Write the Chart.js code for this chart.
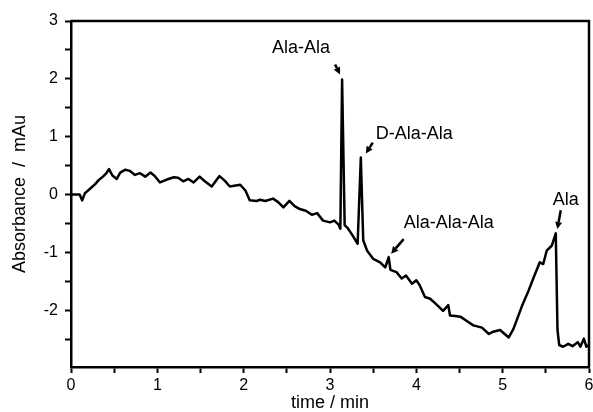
<!DOCTYPE html>
<html>
<head>
<meta charset="utf-8">
<script src="https://cdn.jsdelivr.net/npm/chart.js@4/dist/chart.umd.min.js"></script>
<style>
  html, body { margin: 0; padding: 0; background: #fff; }
  #wrap { width: 593px; height: 412px; }
</style>
</head>
<body>
<div id="wrap"><canvas id="chart" width="593" height="412"></canvas></div>
<script>
// electropherogram trace
const times = [
  0, 0.1, 0.13, 0.16, 0.22, 0.28, 0.32, 0.37, 0.41, 0.44, 0.48, 0.53, 0.57, 0.63, 0.68, 0.74, 0.8, 0.86, 0.92, 0.97,
  1.03, 1.11, 1.19, 1.24, 1.3, 1.36, 1.42, 1.49, 1.55, 1.63, 1.72, 1.78, 1.84, 1.96,
  2.02, 2.07, 2.15, 2.19, 2.25, 2.34, 2.4, 2.46, 2.53, 2.59, 2.65, 2.72, 2.79, 2.85, 2.92,
  3.0, 3.05, 3.1, 3.12, 3.14, 3.17, 3.2, 3.25, 3.32, 3.357, 3.385, 3.43, 3.5, 3.58, 3.64, 3.68, 3.7, 3.77, 3.83, 3.88, 3.95,
  4.0, 4.04, 4.1, 4.16, 4.22, 4.31, 4.37, 4.39, 4.45, 4.51, 4.58, 4.66, 4.76, 4.84, 4.89, 4.97,
  5.07, 5.125, 5.22, 5.3, 5.36, 5.43, 5.47, 5.51, 5.57, 5.615, 5.635, 5.655, 5.7, 5.76, 5.81, 5.87, 5.9, 5.94, 5.97, 6.0
];
const absorbance = [
  0, 0, -0.1, 0.02, 0.1, 0.18, 0.25, 0.31, 0.37, 0.44, 0.33, 0.27, 0.38, 0.43, 0.41, 0.34, 0.37, 0.31, 0.38, 0.32,
  0.21, 0.26, 0.3, 0.29, 0.23, 0.27, 0.21, 0.31, 0.23, 0.14, 0.32, 0.24, 0.14, 0.17,
  0.07, -0.1, -0.11, -0.09, -0.11, -0.07, -0.13, -0.22, -0.11, -0.2, -0.25, -0.28, -0.35, -0.32, -0.45,
  -0.48, -0.45, -0.52, -0.59, 1.99, -0.53, -0.57, -0.68, -0.85, 0.64, -0.79, -0.97, -1.11, -1.17, -1.26, -1.08, -1.3, -1.34, -1.45, -1.4, -1.54,
  -1.48, -1.57, -1.77, -1.8, -1.88, -2.01, -1.91, -2.09, -2.1, -2.11, -2.18, -2.26, -2.3, -2.41, -2.37, -2.34,
  -2.47, -2.32, -1.94, -1.66, -1.43, -1.17, -1.2, -0.97, -0.88, -0.67, -2.34, -2.6, -2.63, -2.58, -2.62, -2.55, -2.63, -2.49, -2.63, -2.6
];

const xTickLabels = [0, 1, 2, 3, 4, 5, 6];
const yTickLabels = [-2, -1, 0, 1, 2, 3];

const peakNames = ['Ala-Ala', 'D-Ala-Ala', 'Ala-Ala-Ala', 'Ala'];
const peakTimes = [3.14, 3.357, 3.68, 5.615];
const peakValues = [1.99, 0.64, -1.08, -0.67];

// pixel offsets of label text and arrow from each peak
const labelOffsets = [
  { align: 'center', text: [-41, -31], tail: [-7, -15], tip: [-2, -5] },
  { align: 'left', text: [15, -24], tail: [12, -15], tip: [5, -4] },
  { align: 'left', text: [15, -34], tail: [15, -18], tip: [2.4, -3.4] },
  { align: 'center', text: [10, -33], tail: [5, -23], tip: [1.6, -4.4] }
];

const FONT = "'Liberation Sans', Arial, Helvetica, sans-serif";

// major labels plus a minor tick halfway between
function withMinor(labels) {
  const out = [];
  labels.forEach(v => { out.push(v); out.push(v - 0.5); });
  return out.sort((a, b) => a - b);
}

function drawArrow(ctx, x1, y1, x2, y2) {
  const ang = Math.atan2(y2 - y1, x2 - x1);
  const head = 7, half = 3.5;
  const bx = x2 - head * Math.cos(ang), by = y2 - head * Math.sin(ang);
  ctx.beginPath();
  ctx.moveTo(x1, y1);
  ctx.lineTo(bx, by);
  ctx.lineWidth = 2.5;
  ctx.stroke();
  ctx.beginPath();
  ctx.moveTo(x2, y2);
  ctx.lineTo(bx + half * Math.sin(ang), by - half * Math.cos(ang));
  ctx.lineTo(bx - half * Math.sin(ang), by + half * Math.cos(ang));
  ctx.closePath();
  ctx.fill();
}

const peakLabels = {
  id: 'peakLabels',
  afterDatasetsDraw(chart) {
    const { ctx, scales: { x, y } } = chart;
    ctx.save();
    ctx.fillStyle = '#000';
    ctx.strokeStyle = '#000';
    ctx.font = '18px ' + FONT;
    ctx.textBaseline = 'middle';
    peakNames.forEach((name, i) => {
      const px = x.getPixelForValue(peakTimes[i]);
      const py = y.getPixelForValue(peakValues[i]);
      const o = labelOffsets[i];
      ctx.textAlign = o.align;
      ctx.fillText(name, px + o.text[0], py + o.text[1]);
      drawArrow(ctx, px + o.tail[0], py + o.tail[1], px + o.tip[0], py + o.tip[1]);
    });
    ctx.restore();
  }
};

// top and right frame lines
const frame = {
  id: 'frame',
  afterDraw(chart) {
    const { ctx, chartArea: a } = chart;
    ctx.save();
    ctx.strokeStyle = '#000';
    ctx.lineWidth = 2.5;
    ctx.beginPath();
    ctx.moveTo(a.left, a.top);
    ctx.lineTo(a.right, a.top);
    ctx.lineTo(a.right, a.bottom);
    ctx.stroke();
    ctx.restore();
  }
};

new Chart(document.getElementById('chart'), {
  type: 'line',
  data: {
    datasets: [{
      data: times.map((t, i) => ({ x: t, y: absorbance[i] })),
      borderColor: '#000',
      borderWidth: 2.5,
      pointRadius: 0,
      tension: 0,
      borderJoinStyle: 'round',
      fill: false
    }]
  },
  options: {
    responsive: false,
    animation: false,
    devicePixelRatio: 1,
    layout: { padding: { top: 21, right: 4, bottom: 0, left: 0 } },
    plugins: { legend: { display: false }, tooltip: { enabled: false } },
    scales: {
      x: {
        type: 'linear',
        bounds: 'data',
        min: 0,
        max: 6,
        border: { display: true, color: '#000', width: 2.5 },
        grid: { drawOnChartArea: false, drawTicks: true, tickLength: 6, tickColor: '#000', tickWidth: 2 },
        ticks: {
          padding: 3,
          maxRotation: 0,
          autoSkip: false,
          color: '#000',
          font: { family: FONT, size: 16 },
          callback: v => xTickLabels.includes(v) ? String(v) : ''
        },
        afterBuildTicks(scale) {
          scale.ticks = withMinor(xTickLabels).filter(v => v >= 0).map(v => ({ value: v }));
        },
        title: { display: true, text: 'time / min', color: '#000', font: { family: FONT, size: 18, lineHeight: 1 }, padding: { top: 0, bottom: 0 } },
        afterFit(scale) { scale.height = 45; scale.paddingLeft = 0; scale.paddingRight = 0; }
      },
      y: {
        type: 'linear',
        bounds: 'data',
        min: -2.98,
        max: 3,
        border: { display: true, color: '#000', width: 2.5 },
        grid: { drawOnChartArea: false, drawTicks: true, tickLength: 6, tickColor: '#000', tickWidth: 2 },
        ticks: {
          padding: 7,
          autoSkip: false,
          color: '#000',
          font: { family: FONT, size: 16 },
          callback: v => yTickLabels.includes(v) ? String(v) : ''
        },
        afterBuildTicks(scale) {
          scale.ticks = withMinor(yTickLabels).map(v => ({ value: v }));
        },
        title: { display: true, text: 'Absorbance  /  mAu', color: '#000', font: { family: FONT, size: 18, lineHeight: 1 }, padding: { top: 11, bottom: 0 } },
        afterFit(scale) { scale.width = 71; scale.paddingTop = 0; scale.paddingBottom = 0; }
      }
    }
  },
  plugins: [peakLabels, frame]
});
</script>
</body>
</html>
